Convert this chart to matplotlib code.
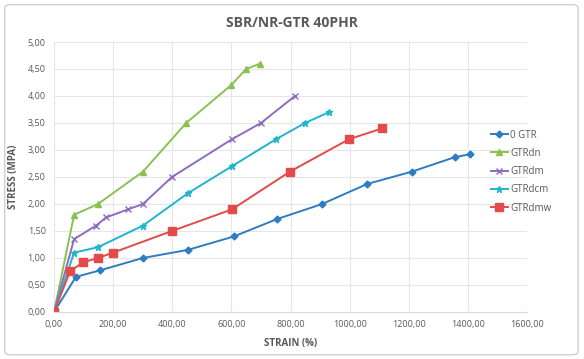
import matplotlib.pyplot as plt
from matplotlib.patches import FancyBboxPatch
from matplotlib.ticker import FuncFormatter

# Strain (%) / stress (MPa)
gtr0_x = [0, 74, 155, 301, 453, 609, 754, 907, 1059, 1211, 1357, 1407]
gtr0_y = [0, 0.65, 0.77, 1.00, 1.15, 1.40, 1.72, 2.00, 2.37, 2.60, 2.87, 2.92]

dn_x = [0, 68, 149, 301, 447, 599, 650, 697]
dn_y = [0, 1.80, 2.00, 2.60, 3.50, 4.20, 4.50, 4.60]

dm_x = [0, 68, 142, 176, 250, 301, 399, 602, 700, 815]
dm_y = [0, 1.35, 1.60, 1.75, 1.90, 2.00, 2.50, 3.20, 3.50, 4.00]

dcm_x = [0, 68, 149, 301, 453, 602, 751, 849, 930]
dcm_y = [0, 1.10, 1.20, 1.60, 2.20, 2.70, 3.20, 3.50, 3.70]

dmw_x = [0, 54, 98, 149, 200, 399, 602, 798, 998, 1110]
dmw_y = [0, 0.75, 0.92, 1.00, 1.10, 1.50, 1.90, 2.60, 3.20, 3.40]

x_ticks = [0, 200, 400, 600, 800, 1000, 1200, 1400, 1600]
y_ticks = [0, 0.5, 1.0, 1.5, 2.0, 2.5, 3.0, 3.5, 4.0, 4.5, 5.0]

grey = "#595959"
plt.rcParams["font.family"] = ["Open Sans", "DejaVu Sans"]

fig = plt.figure(figsize=(5.84, 3.59), dpi=100)
fig.patches.append(FancyBboxPatch((0.008, 0.012), 0.982, 0.975,
                                  boxstyle="round,pad=0,rounding_size=0.01",
                                  transform=fig.transFigure, fill=False,
                                  edgecolor="#d0d0d0", linewidth=1))
ax = fig.add_axes([0.0925, 0.131, 0.81, 0.752])

ax.plot(gtr0_x, gtr0_y, color="#2f7cc2", marker="D", markersize=3.5, lw=1.4, label="0 GTR")
ax.plot(dn_x, dn_y, color="#8cc152", marker="^", markersize=4.5, lw=1.4, label="GTRdn")
ax.plot(dm_x, dm_y, color="#8e6bbf", marker="x", markersize=5, mew=1, lw=1.4, label="GTRdm")
ax.plot(dcm_x, dcm_y, color="#1fb5cf", marker="*", markersize=5, lw=1.4, label="GTRdcm")
ax.plot(dmw_x, dmw_y, color="#e34a4a", marker="s", markersize=5.5, lw=1.4, label="GTRdmw")

ax.set_xlim(0, 1600)
ax.set_ylim(0, 5)
ax.set_xticks(x_ticks)
ax.set_yticks(y_ticks)
ax.xaxis.set_major_formatter(FuncFormatter(lambda v, p: f"{v:.2f}".replace(".", ",")))
ax.yaxis.set_major_formatter(FuncFormatter(lambda v, p: f"{v:.2f}".replace(".", ",")))
ax.tick_params(length=0, labelsize=6.5, colors=grey, pad=6)
ax.grid(True, color="#e6e6e6", lw=0.8)
ax.set_axisbelow(True)
for s in ax.spines.values():
    s.set_visible(False)
ax.spines["bottom"].set_visible(True)
ax.spines["bottom"].set_color("#d9d9d9")

ax.set_xlabel("STRAIN (%)", fontsize=7, fontweight="bold", color=grey, labelpad=6)
ax.set_ylabel("STRESS (MPA)", fontsize=7, fontweight="bold", color=grey, labelpad=6)
fig.text(0.5, 0.935, "SBR/NR-GTR 40PHR", ha="center", va="center",
         fontsize=10, fontweight="bold", color=grey)

ax.legend(loc="center left", bbox_to_anchor=(0.915, 0.52), frameon=False,
          fontsize=7, labelcolor=grey, handlelength=1.8, handletextpad=0.2,
          labelspacing=0.75, borderaxespad=0)

fig.savefig("out.png", dpi=100)
